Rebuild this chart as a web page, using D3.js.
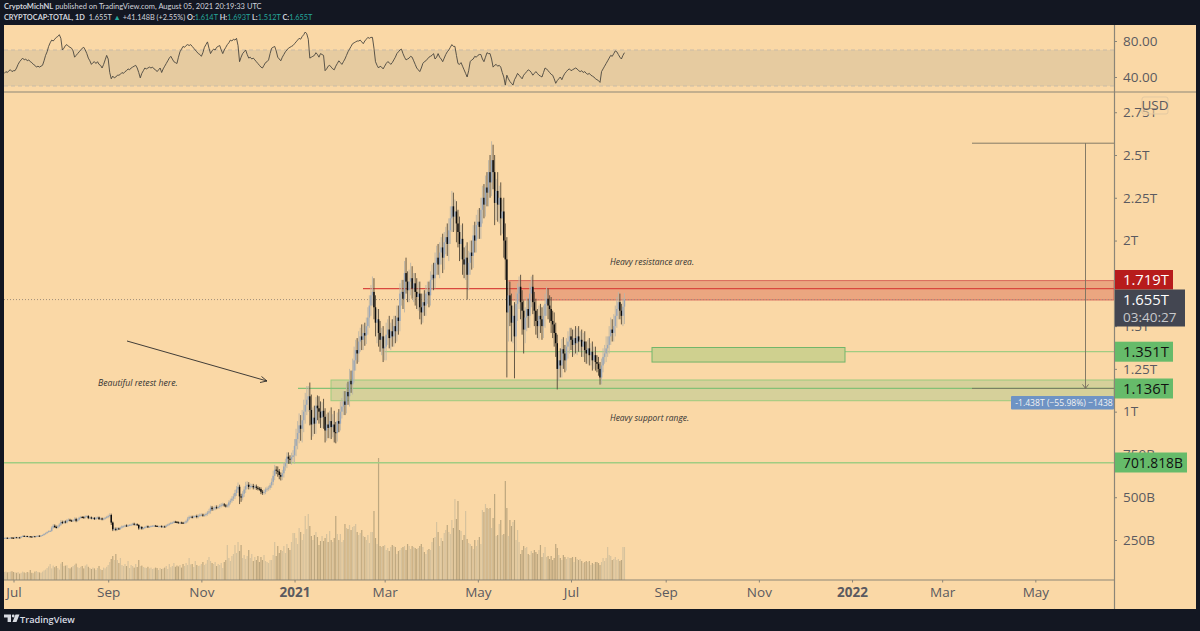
<!DOCTYPE html>
<html><head><meta charset="utf-8">
<script src="https://cdnjs.cloudflare.com/ajax/libs/d3/7.8.5/d3.min.js"></script>
<style>html,body{margin:0;padding:0;background:#131722;overflow:hidden}svg{display:block}text{font-family:"Open Sans","Noto Sans",sans-serif}</style>
</head><body><svg id="c" width="1200" height="631"></svg>
<script>
// Daily values from 2020-06-25 to 2021-08-05 (billions USD)
const closes=[262,263,261,262,264,263,
262,266,264,265,264,270,274,272,273,270,271,270,269,272,271,273,275,274,276,279,285,290,296,302,303,322,333,326,322,330,340,
355,350,358,353,365,368,364,362,365,372,362,370,380,384,383,381,388,390,378,382,376,379,372,380,382,372,376,370,375,380,385,
390,396,352,312,315,310,318,315,322,330,330,335,332,336,338,340,345,340,342,338,318,326,316,320,326,330,325,328,332,333,
334,332,330,330,331,327,329,328,335,340,345,350,352,357,356,353,352,352,351,350,352,360,375,385,386,382,388,390,385,392,397,
398,394,396,402,410,418,439,430,434,442,440,443,450,456,458,452,448,452,470,480,492,505,525,545,561,505,498,520,545,565,
573,560,565,566,558,562,555,550,548,532,526,530,545,550,555,570,590,625,661,655,650,630,620,640,680,700,737,725,720,735,745,
800,840,875,920,900,950,1000,1040,1070,1090,1010,925,965,930,1035,1020,1000,965,1005,970,890,925,905,945,910,925,880,875,945,930,1000,
1030,1060,1040,1115,1090,1180,1160,1240,1300,1360,1340,1410,1440,1420,1460,1445,1500,1550,1620,1680,1700,1610,1520,1540,1460,1420,1440,1370,
1380,1450,1480,1430,1470,1440,1500,1470,1550,1530,1690,1700,1660,1810,1760,1710,1760,1780,1720,1750,1700,1670,1690,1610,1580,1640,1620,1690,1700,1680,1770,
1800,1780,1870,1900,1860,1930,1960,1900,1990,2020,1980,2060,2130,2200,2140,2170,2100,2050,1980,2010,1890,1860,1900,1800,1870,1930,1910,2030,2000,2090,
2110,2080,2180,2250,2210,2310,2280,2400,2340,2470,2400,2220,2290,2210,2250,2130,2170,2000,1890,1580,1680,1620,1520,1560,1440,1630,1690,1730,1640,1590,1480,
1550,1600,1560,1690,1730,1640,1590,1530,1500,1560,1540,1500,1560,1630,1660,1620,1600,1530,1510,1460,1400,1250,1300,1270,1365,1340,1300,1380,1410,1440,
1420,1390,1430,1400,1440,1410,1420,1380,1410,1360,1340,1370,1330,1350,1300,1330,1290,1280,1250,1200,1270,1320,1340,1370,1390,1440,1480,1460,1500,1560,1600,
1640,1590,1560,1614,1655];
const wickUp=[2,2,2,2,2,2,
2,3,2,2,3,3,3,3,2,2,2,2,2,3,2,3,2,2,3,3,4,4,4,4,5,8,10,8,8,6,8,
12,8,6,6,8,8,6,5,6,10,8,6,6,7,6,6,6,5,5,6,5,5,5,6,5,5,5,5,5,5,6,
8,10,8,6,8,8,6,5,6,6,5,5,6,5,5,6,5,6,5,5,4,6,5,5,4,5,5,4,4,4,
4,4,4,4,4,5,5,5,6,5,5,6,5,5,5,5,5,5,5,5,6,8,10,8,6,6,6,6,8,8,8,
8,6,8,8,10,14,12,10,10,10,10,8,10,10,10,8,8,10,12,12,14,16,18,20,25,12,15,15,18,25,
20,15,15,12,12,10,12,10,10,10,10,15,12,12,12,12,20,30,28,20,25,15,15,20,25,25,25,25,20,25,30,
40,60,70,70,60,60,70,70,80,60,80,90,60,70,50,60,70,60,50,70,50,60,70,60,80,60,80,60,50,70,60,
50,60,60,50,60,70,60,70,80,60,70,60,50,70,50,60,50,60,60,60,90,80,70,60,60,70,50,60,
60,70,60,80,50,70,60,60,70,70,60,70,70,70,90,60,70,90,70,60,60,80,70,70,80,50,70,50,60,60,50,
60,70,60,70,80,60,60,80,60,60,80,70,70,90,80,70,60,80,90,80,90,70,70,90,70,70,70,60,80,60,
70,80,70,70,80,70,90,70,100,110,90,100,70,110,70,90,70,80,100,130,80,80,70,60,80,70,60,60,70,70,60,
60,70,60,60,60,70,60,70,70,60,70,70,60,60,70,60,60,70,60,70,60,50,50,70,60,70,50,50,60,50,
50,60,50,70,50,60,50,60,50,60,50,50,60,50,60,50,50,40,40,40,40,50,50,70,50,60,70,60,70,60,70,
60,50,40,50,38];
const wickDn=[2,2,2,2,2,2,
2,2,2,2,2,3,3,2,2,2,2,2,2,2,2,2,2,2,2,2,3,3,3,3,3,5,6,6,5,5,6,
8,7,6,6,6,6,6,5,5,6,8,6,6,6,5,5,6,5,6,5,5,5,5,5,5,5,5,5,5,5,5,
8,8,14,10,8,8,6,6,6,5,5,5,5,5,5,5,5,5,5,6,8,6,6,5,5,5,5,5,4,4,
4,4,4,4,4,5,5,4,4,5,5,5,5,5,5,5,5,5,5,5,5,6,8,8,8,6,6,6,8,8,8,
8,8,8,8,10,10,14,10,10,10,10,8,10,10,10,8,8,8,12,12,12,14,16,18,20,45,25,16,18,20,
18,14,14,12,12,12,12,10,10,14,12,12,12,12,12,12,15,20,25,20,30,25,22,20,25,25,30,30,25,30,30,
50,60,60,60,70,80,70,70,60,70,90,90,70,60,60,70,70,60,60,70,70,60,60,60,70,60,60,60,50,50,40,
40,50,60,50,50,60,50,60,70,60,60,50,60,60,60,60,50,50,60,60,60,70,80,120,80,70,90,80,
70,80,60,60,70,60,60,70,60,80,60,70,60,80,70,70,70,80,60,80,80,70,80,70,70,60,60,60,60,70,60,
60,70,60,70,60,80,70,90,70,70,70,100,80,80,90,80,110,90,100,90,90,80,90,145,90,70,80,70,70,70,
80,70,70,80,80,70,80,80,90,80,100,130,100,100,110,100,90,100,120,380,170,120,110,120,245,90,100,90,100,140,140,
80,80,70,70,80,70,90,80,70,80,80,80,70,70,70,80,80,70,80,80,80,120,70,70,70,90,70,60,70,70,
60,70,60,60,70,60,60,60,60,70,60,60,60,60,60,50,50,50,40,42,40,40,40,50,50,50,50,50,50,60,70,
60,50,50,60,102];
const volumes=[40,42,38,40,42,44,
40,38,36,40,32,36,42,38,35,40,38,50,36,34,42,45,40,38,36,42,48,52,60,68,80,58,72,64,70,60,52,
82,90,70,72,74,60,58,64,70,76,82,64,60,66,70,58,72,78,66,60,55,62,58,50,60,70,54,50,62,58,66,
75,90,105,120,100,130,100,85,110,75,70,80,70,95,60,75,70,62,80,65,100,70,72,65,62,60,66,58,62,55,
58,62,60,50,60,55,58,62,70,55,80,64,70,85,66,72,68,75,62,80,70,85,75,110,78,80,65,95,75,70,72,
80,90,75,82,100,115,95,85,80,90,70,80,75,85,60,90,100,175,110,95,120,130,175,135,190,145,175,110,125,105,
120,150,110,130,95,115,100,120,90,115,100,125,95,90,85,100,100,125,190,120,170,135,150,145,170,135,180,160,150,190,235,
235,210,180,260,240,200,230,320,255,330,270,220,200,225,240,215,175,195,220,195,210,230,190,245,200,190,210,320,230,200,230,
190,200,280,260,255,275,250,265,270,280,240,225,235,250,220,215,200,225,185,240,240,345,210,180,610,170,165,170,
175,150,160,145,165,175,170,165,130,145,150,160,165,170,150,180,170,155,170,165,160,155,160,170,180,165,140,130,150,155,150,
190,210,215,290,240,170,210,195,235,250,275,240,230,300,260,405,305,395,250,245,200,225,345,205,185,180,170,155,200,170,
200,215,180,350,340,380,360,355,360,260,310,430,220,225,280,300,225,230,495,360,220,300,270,290,300,200,250,190,130,150,170,
160,165,130,125,145,135,150,140,130,150,175,115,135,165,115,120,105,120,100,110,180,160,125,110,100,125,115,105,115,110,
110,115,90,115,105,100,105,95,85,90,95,90,95,75,85,80,90,90,85,75,90,110,95,110,165,125,120,100,105,115,100,
105,95,100,165,165];
const rsi=[44,46,45,47,48,46,47,47,50,54,
57,59,61,59,60,58,59,57,56,54,
53,51,52,51,52,53,58,64,68,74,
78,81,80,82,84,85,87,83,70,72,
75,76,74,73,72,69,62,64,66,68,
70,72,73,70,66,61,58,54,56,57,
55,57,54,53,50,54,59,64,60,45,
38,41,39,40,42,42,43,45,44,46,
47,49,48,50,51,52,53,50,45,39,
44,47,50,49,50,51,50,51,49,48,
46,48,50,45,49,52,55,58,61,63,
60,57,56,55,62,68,71,74,73,75,
76,75,76,74,72,70,68,66,65,63,
67,73,76,79,72,66,69,71,70,73,
74,75,70,66,70,73,76,78,81,80,
82,81,83,75,57,62,66,68,70,65,
61,62,60,61,59,57,55,53,51,50,
53,56,57,59,66,72,73,74,69,62,
60,58,62,65,68,70,72,73,74,75,
77,79,81,83,82,85,87,90,88,82,
61,62,63,64,67,65,62,66,65,64,
47,49,52,53,51,49,48,52,55,58,
56,54,57,60,64,68,71,74,77,78,
79,80,80,81,79,77,80,82,84,83,
84,84,72,57,53,50,52,51,49,52,
55,57,56,54,56,59,62,66,68,70,
71,66,62,59,60,61,63,62,58,54,
50,48,46,50,55,57,58,60,62,63,
64,66,60,62,66,62,60,57,61,65,
68,70,73,76,74,74,64,55,54,56,
52,48,44,40,47,57,59,60,63,62,
64,65,65,60,57,62,67,66,66,60,
51,53,54,52,53,51,45,40,31,42,
38,35,33,31,37,40,44,42,40,38,
42,44,46,48,47,45,42,44,46,44,
42,41,40,45,50,49,47,45,43,42,
38,33,36,38,40,37,41,44,46,48,
49,47,48,49,50,49,47,46,47,45,
46,44,43,44,42,41,40,38,37,36,
34,46,49,52,55,58,61,64,63,66,
69,68,65,62,60,64,67];
const startDate=new Date(Date.UTC(2020,5,25));
const firstOpen=262;
const priceTicks=[250,500,750,1000,1250,1500,1750,2000,2250,2500,2750];
const priceLabels=["250B","500B","750B","1T","1.25T","1.5T","","2T","2.25T","2.5T","2.75T"];
const rsiTicks=[40,80];
const rsiLabels=["40.00","80.00"];
const timeTicks=[[2020,6],[2020,8],[2020,10],[2021,0],[2021,2],[2021,4],[2021,6],[2021,8],[2021,10],[2022,0],[2022,2],[2022,4]];
const timeLabels=["Jul","Sep","Nov","2021","Mar","May","Jul","Sep","Nov","2022","Mar","May"];
const levelResistance=1719, levelMid=1351, levelSupport=1136, levelLow=701.818, lastClose=1655;
const resistanceZone=[1653,1766];
const supportZone=[1064,1185];
const midZone=[1290,1375];
const measureTop=2569;

const DAY=864e5, dateOf=i=>new Date(+startDate+i*DAY);
const bg="#fad8a6", dark="#131722", axisC="#8b8577", textC="#5a5a60";
const L=4,R=1114,Wt=1196,T=25,S=92,B=580,F=609;
const svg=d3.select("#c");
svg.append("rect").attr("width",1200).attr("height",631).attr("fill",dark);
svg.append("rect").attr("x",L).attr("y",T).attr("width",Wt-L).attr("height",F-T).attr("fill",bg);

const x=d3.scaleUtc().domain([new Date(Date.UTC(2020,6,1)),new Date(Date.UTC(2021,6,1))]).range([13.5,571]);
const y=d3.scaleLinear().domain([250,2500]).range([540,155]);
const yR=d3.scaleLinear().domain([40,80]).range([77,41]);
const yV=d3.scaleLinear().domain([0,610]).range([B,458]);

const defs=svg.append("defs");
defs.append("clipPath").attr("id","main").append("rect").attr("x",L).attr("y",S).attr("width",R-L).attr("height",B-S);

// RSI pane
const gR=svg.append("g");
gR.append("rect").attr("x",L).attr("width",R-L).attr("y",yR(70)).attr("height",yR(30)-yR(70)).attr("fill","#e6cba0");
[70,30].forEach(v=>gR.append("line").attr("x1",L).attr("x2",R).attr("y1",yR(v)).attr("y2",yR(v)).attr("stroke","#c9bba6").attr("stroke-dasharray","4 3").attr("stroke-width",1));
gR.append("path").attr("d",d3.line().x((d,i)=>x(dateOf(i))).y(d=>yR(d))(rsi)).attr("fill","none").attr("stroke","#4a463e").attr("stroke-width",.9);
gR.append("line").attr("x1",L).attr("x2",Wt).attr("y1",S).attr("y2",S).attr("stroke",axisC).attr("stroke-width",1.2);
const rsiAxis=d3.axisRight(yR).tickValues(rsiTicks).tickSize(3).tickFormat((d,i)=>rsiLabels[i]);
const gRa=svg.append("g").attr("transform",`translate(${R},0)`).call(rsiAxis);

const main=svg.append("g").attr("clip-path","url(#main)");
// volume
const candles=closes.map((c,i)=>{const o=i?closes[i-1]:firstOpen;return {i,o,c,h:Math.max(o,c)+wickUp[i],l:Math.min(o,c)-wickDn[i],v:volumes[i],up:c>=o}});
main.append("g").selectAll("rect").data(candles).join("rect")
 .attr("x",d=>x(dateOf(d.i))-.6).attr("width",1.2).attr("y",d=>yV(d.v)).attr("height",d=>B-yV(d.v))
 .attr("fill",d=>d.up?"#d6c29d":"#bda77f");

// levels (under candles)
const hl=(v,x1,col,w)=>main.append("line").attr("x1",x1).attr("x2",R).attr("y1",y(v)).attr("y2",y(v)).attr("stroke",col).attr("stroke-width",w||1);
const zone=(z,x1,x2,fill,stroke)=>main.append("rect").attr("x",x1).attr("width",x2-x1).attr("y",y(z[1])).attr("height",y(z[0])-y(z[1])).attr("fill",fill).attr("stroke",stroke).attr("stroke-width",1);
hl(levelLow,L,"#a0cc82",1.4);
hl(levelMid,384,"#a0cc82",1.4);
zone(supportZone,331,R,"#d6d09a","#9ccb7e");
zone(midZone,652,845,"#cfd08f","#72b56a");
zone(resistanceZone,509,R,"#eba680","#d9675a");
hl(levelSupport,298,"#85c076",1.2);
hl(levelResistance,363,"#d9483f",1.1);
main.append("line").attr("x1",L).attr("x2",R).attr("y1",y(lastClose)).attr("y2",y(lastClose)).attr("stroke","#a08f7a").attr("stroke-dasharray","1 2").attr("stroke-width",1);

// candles
const gC=main.append("g");
gC.selectAll("line").data(candles).join("line")
 .attr("x1",d=>x(dateOf(d.i))).attr("x2",d=>x(dateOf(d.i))).attr("y1",d=>y(d.h)).attr("y2",d=>y(d.l))
 .attr("stroke",d=>d.up?"#bcb5a6":"#54493a").attr("stroke-width",.9);
gC.selectAll("rect").data(candles).join("rect")
 .attr("x",d=>x(dateOf(d.i))-.75).attr("width",1.5)
 .attr("y",d=>y(Math.max(d.o,d.c))).attr("height",d=>Math.max(1,Math.abs(y(d.o)-y(d.c))))
 .attr("fill",d=>d.up?"#9aa7b8":"#0c0c0c");

// measure tool
[measureTop,levelSupport].forEach(v=>main.append("line").attr("x1",972).attr("x2",R).attr("y1",y(v)).attr("y2",y(v)).attr("stroke","#77715f").attr("stroke-width",.9));
main.append("line").attr("x1",1085.5).attr("x2",1085.5).attr("y1",y(measureTop)).attr("y2",y(levelSupport)).attr("stroke","#77715f").attr("stroke-width",.9);
main.append("path").attr("d",`M1082.5 ${y(levelSupport)-4}L1085.5 ${y(levelSupport)}L1088.5 ${y(levelSupport)-4}`).attr("fill","none").attr("stroke","#77715f");
svg.append("rect").attr("x",1011).attr("y",396).attr("width",103).attr("height",13.5).attr("rx",1).attr("fill","#6e93c4");
svg.append("text").attr("x",1064).attr("y",405.5).attr("text-anchor","middle").attr("font-size",8.6).attr("fill","#f2f2f2").text("-1.438T (−55.98%) −1438");

// arrow and notes
svg.append("line").attr("x1",127).attr("y1",341).attr("x2",267).attr("y2",381).attr("stroke","#2a2a2a").attr("stroke-width",.9);
svg.append("path").attr("d","M261.5 376.5L267 381L260 382.5").attr("fill","none").attr("stroke","#2a2a2a").attr("stroke-width",.9);
[["Beautiful retest here.",98,386,8.7],["Heavy resistance area.",610,265,8.5],["Heavy support range.",610,421,8.4]].forEach(n=>
 svg.append("text").attr("x",n[1]).attr("y",n[2]).attr("font-size",n[3]).attr("font-style","italic").attr("fill","#333").text(n[0]));

// axes
svg.append("line").attr("x1",L).attr("x2",R).attr("y1",B).attr("y2",B).attr("stroke",axisC).attr("stroke-width",1.2);
svg.append("line").attr("x1",R+.5).attr("x2",R+.5).attr("y1",T).attr("y2",F).attr("stroke",axisC).attr("stroke-width",1.2);
const pAxis=d3.axisRight(y).tickValues(priceTicks).tickSize(3).tickFormat((d,i)=>priceLabels[i]);
const gP=svg.append("g").attr("transform",`translate(${R},0)`).call(pAxis);
const tDates=timeTicks.map(t=>new Date(Date.UTC(t[0],t[1],1)));
const xAxis=d3.axisBottom(x).tickValues(tDates).tickSize(2.5).tickFormat((d,i)=>timeLabels[i]);
const gX=svg.append("g").attr("transform",`translate(0,${B})`).call(xAxis);
[gRa,gP,gX].forEach(g=>{g.select(".domain").remove();g.selectAll(".tick line").attr("stroke",axisC);
 g.selectAll("text").attr("fill",textC).attr("font-size",13.5).attr("font-family",'"Open Sans",sans-serif')});
gP.selectAll("text").attr("x",9);gRa.selectAll("text").attr("x",9);
gX.selectAll("text").attr("y",7).attr("font-weight",(d,i)=>/20/.test(timeLabels[i])?700:400);

// USD box
svg.append("rect").attr("x",1142).attr("y",97).attr("width",26).attr("height",17).attr("rx",2).attr("fill",bg).attr("fill-opacity",.55).attr("stroke","#e3c9a2");
svg.append("text").attr("x",1155).attr("y",110).attr("text-anchor","middle").attr("font-size",13.5).attr("fill",textC).text("USD");

// price tags
const tag=(t,yy,h,w,fill,col,fs)=>{svg.append("rect").attr("x",R+1).attr("y",yy).attr("width",w).attr("height",h).attr("fill",fill);
 svg.append("text").attr("x",R+9).attr("y",yy+h/2+5).attr("font-size",fs).attr("fill",col).text(t)};
tag("1.719T",270,19.5,58,"#b71c1c","#fff",14.8);
svg.append("rect").attr("x",R+1).attr("y",289.5).attr("width",70).attr("height",37).attr("fill","#434651");
svg.append("text").attr("x",R+9).attr("y",305).attr("font-size",14.8).attr("fill","#fff").text("1.655T");
svg.append("text").attr("x",R+9).attr("y",322).attr("font-size",13.5).attr("fill","#c8c9cc").text("03:40:27");
tag("1.351T",341.7,20,58,"#66bb6a","#111",14.8);
tag("1.136T",378.5,20,58,"#66bb6a","#111",14.8);
tag("701.818B",452.5,20,72,"#66bb6a","#111",13.8);

// header
const hf='Lato,"Open Sans",sans-serif';
const h1=svg.append("text").attr("x",4).attr("y",8.5).attr("font-size",7.5).attr("fill","#d1d4dc").style("font-family",hf);
h1.append("tspan").attr("font-weight",700).text("CryptoMichNL");
h1.append("tspan").text(" published on TradingView.com, August 05, 2021 20:19:33 UTC");
const h2=svg.append("text").attr("x",4).attr("y",20).attr("font-size",7.35).attr("fill","#d1d4dc").style("font-family",hf).style("white-space","pre");
const teal="#26a69a";
[["CRYPTOCAP:TOTAL, 1D",700,null],["  1.655T ",400,null],["▲",400,teal],[" +41.148B (+2.55%) ",400,null],["O:",700,null],["1.614T ",400,teal],["H:",700,null],["1.693T ",400,teal],["L:",700,null],["1.512T ",400,teal],["C:",700,null],["1.655T",400,teal]]
 .forEach(p=>{const s=h2.append("tspan").attr("font-weight",p[1]).text(p[0]);if(p[2])s.attr("fill",p[2]);});

// footer
const lg=svg.append("g").attr("fill","#d8dbe2");
lg.append("path").attr("d","M4 614.5h7v7.5h-3.4v-4.4H4zM12.5 622l3-7.5h4l-3 7.5z");
lg.append("circle").attr("cx",13.2).attr("cy",616).attr("r",1.4);
svg.append("text").attr("x",20).attr("y",623).attr("font-size",9.2).attr("font-weight",600).attr("fill","#d8dbe2").text("TradingView");
</script></body></html>
